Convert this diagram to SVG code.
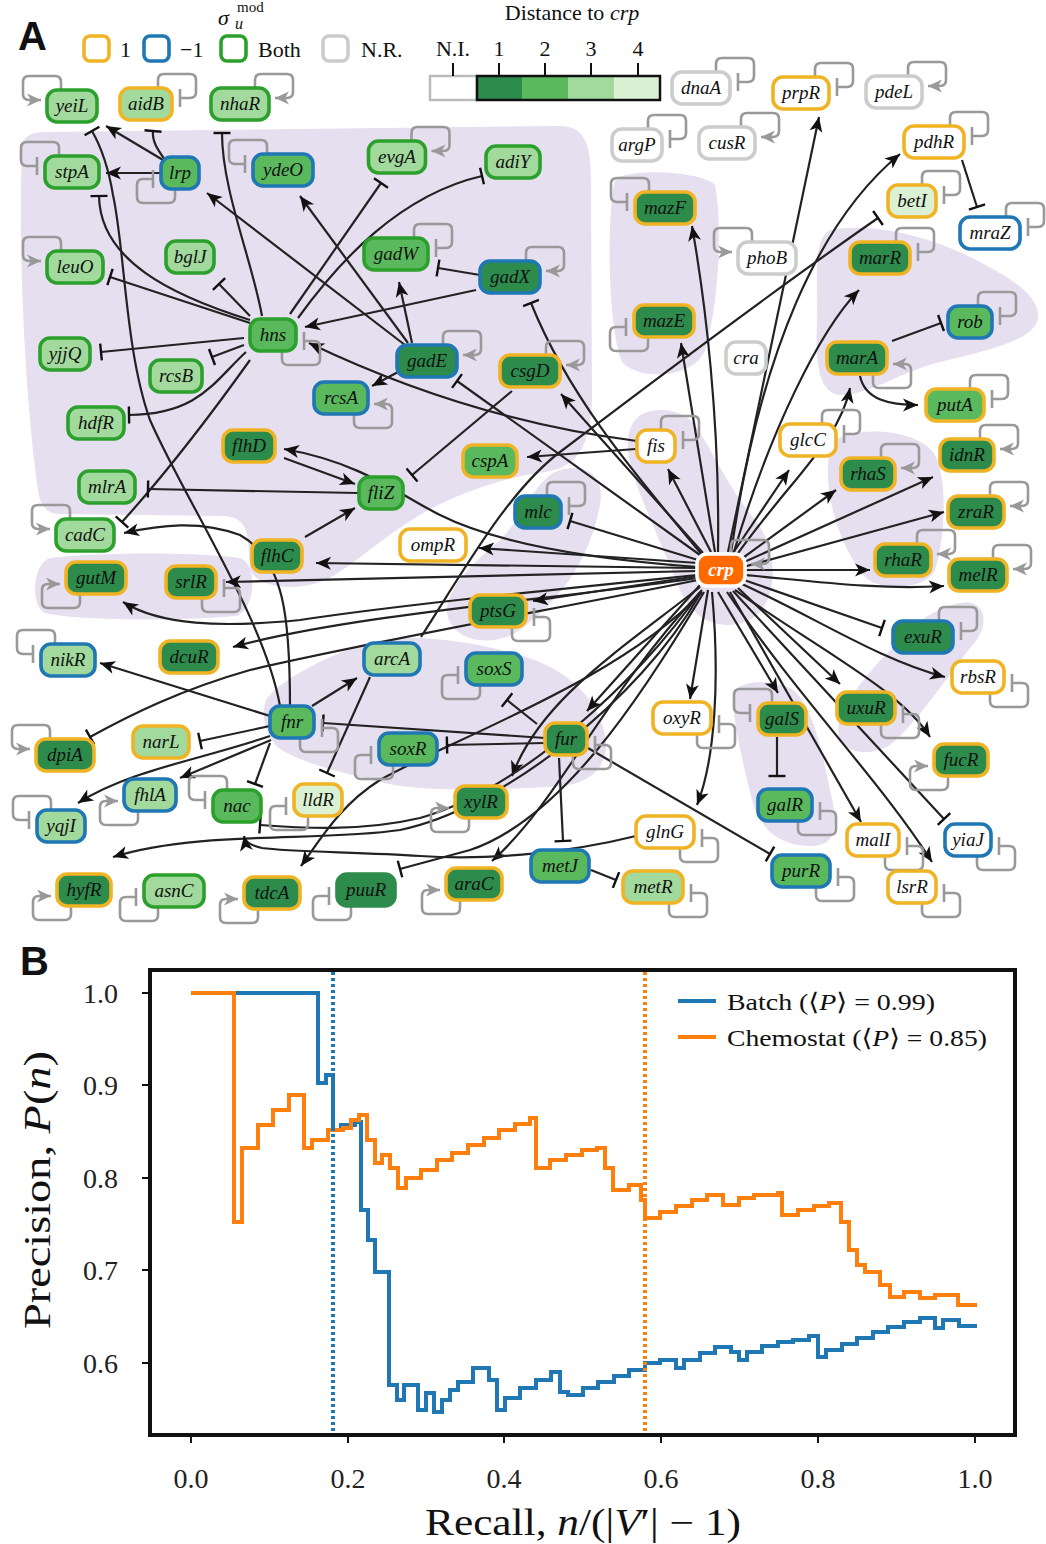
<svg xmlns="http://www.w3.org/2000/svg" xmlns:xlink="http://www.w3.org/1999/xlink" width="1046" height="1544" viewBox="0 0 1046 1544">
<style>
.hull{fill:#e6dff0;stroke:none}
.e{fill:none;stroke:#222;stroke-width:2.2}
.ea{marker-end:url(#ah)}
.et{marker-end:url(#tb)}
.node rect{stroke-width:3.6}
.node text{font-family:"Liberation Serif","DejaVu Serif",serif;font-style:italic;font-size:19px;fill:#111;text-anchor:middle}
.bo{stroke:#f0b323}.bb{stroke:#1f77b4}.bg{stroke:#2ca02c}.bn{stroke:#cccccc}.bd{stroke:#2d8b4c}
.f0{fill:#ffffff}.f1{fill:#2d8b4c}.f2{fill:#5ab95d}.f3{fill:#a2d99c}.f4{fill:#daf1d3}
.lbl{font-family:"Liberation Serif","DejaVu Serif",serif;fill:#111}
.tick{font-family:"Liberation Serif","DejaVu Serif",serif;font-size:28px;fill:#222}
</style>
<defs>
<marker id="ah" viewBox="-16 -8 17 16" markerWidth="17" markerHeight="16" refX="0" refY="0" orient="auto" markerUnits="userSpaceOnUse"><path d="M0,0 L-15,-6.5 L-11,0 L-15,6.5 Z" fill="#111"/></marker>
<marker id="tb" viewBox="-2 -10 4 20" markerWidth="4" markerHeight="20" refX="0" refY="0" orient="auto" markerUnits="userSpaceOnUse"><path d="M0,-8.5 V8.5" stroke="#111" stroke-width="2.4"/></marker>
<marker id="ag" viewBox="-16 -8 17 16" markerWidth="17" markerHeight="16" refX="0" refY="0" orient="auto" markerUnits="userSpaceOnUse"><path d="M0,0 L-14,-6.5 L-10,0 L-14,6.5 Z" fill="#999"/></marker>
<path id="rtb" d="M-14,-16 V-24 Q-14,-30 -8,-30 H18 Q24,-30 24,-24 V-12 Q24,-6 18,-6 H8 M8,-15 V3" fill="none" stroke="#999" stroke-width="2.6"/>
<path id="rta" d="M-14,-16 V-24 Q-14,-30 -8,-30 H18 Q24,-30 24,-24 V-12 Q24,-6 18,-6 H6" fill="none" stroke="#999" stroke-width="2.6" marker-end="url(#ag)"/>
<path id="rbb" d="M-14,16 V24 Q-14,30 -8,30 H18 Q24,30 24,24 V12 Q24,6 18,6 H8 M8,-3 V15" fill="none" stroke="#999" stroke-width="2.6"/>
<path id="rba" d="M-14,16 V24 Q-14,30 -8,30 H18 Q24,30 24,24 V12 Q24,6 18,6 H6" fill="none" stroke="#999" stroke-width="2.6" marker-end="url(#ag)"/>
<path id="ltb" d="M14,-16 V-24 Q14,-30 8,-30 H-18 Q-24,-30 -24,-24 V-12 Q-24,-6 -18,-6 H-8 M-8,-15 V3" fill="none" stroke="#999" stroke-width="2.6"/>
<path id="lta" d="M14,-16 V-24 Q14,-30 8,-30 H-18 Q-24,-30 -24,-24 V-12 Q-24,-6 -18,-6 H-6" fill="none" stroke="#999" stroke-width="2.6" marker-end="url(#ag)"/>
<path id="lbb" d="M14,16 V24 Q14,30 8,30 H-18 Q-24,30 -24,24 V12 Q-24,6 -18,6 H-8 M-8,-3 V15" fill="none" stroke="#999" stroke-width="2.6"/>
<path id="lba" d="M14,16 V24 Q14,30 8,30 H-18 Q-24,30 -24,24 V12 Q-24,6 -18,6 H-6" fill="none" stroke="#999" stroke-width="2.6" marker-end="url(#ag)"/>
</defs>
<rect width="1046" height="1544" fill="#ffffff"/>

<!-- Panel A labels & legends -->
<text x="18" y="50" font-family="Liberation Sans,Arial,sans-serif" font-weight="bold" font-size="40" fill="#111">A</text>
<g id="legend-sigma">
<text class="lbl" x="218" y="25" font-size="22" font-style="italic">σ</text>
<text class="lbl" x="237" y="12" font-size="15">mod</text>
<text class="lbl" x="235" y="29" font-size="16" font-style="italic">u</text>
<rect x="84" y="36" width="25" height="25" rx="6" fill="#fff" stroke="#f0b323" stroke-width="3.6"/>
<text class="lbl" x="120" y="57" font-size="22">1</text>
<rect x="144" y="36" width="25" height="25" rx="6" fill="#fff" stroke="#1f77b4" stroke-width="3.6"/>
<text class="lbl" x="180" y="57" font-size="22">−1</text>
<rect x="221" y="36" width="25" height="25" rx="6" fill="#fff" stroke="#2ca02c" stroke-width="3.6"/>
<text class="lbl" x="258" y="57" font-size="22">Both</text>
<rect x="323" y="36" width="25" height="25" rx="6" fill="#fff" stroke="#cccccc" stroke-width="3.6"/>
<text class="lbl" x="361" y="57" font-size="22">N.R.</text>
</g>
<g id="colorbar">
<text class="lbl" x="572" y="20" font-size="22" text-anchor="middle">Distance to <tspan font-style="italic">crp</tspan></text>
<rect x="430" y="76" width="47" height="24" fill="#fff" stroke="#bbbbbb" stroke-width="2.5"/>
<rect x="477" y="76" width="45" height="24" fill="#2d8b4c"/>
<rect x="522" y="76" width="46" height="24" fill="#5ab95d"/>
<rect x="568" y="76" width="46" height="24" fill="#a2d99c"/>
<rect x="614" y="76" width="46" height="24" fill="#daf1d3"/>
<rect x="477" y="76" width="183" height="24" fill="none" stroke="#111" stroke-width="2.5"/>
<path d="M453,63 V76 M499,63 V76 M545,63 V76 M591,63 V76 M638,63 V76" stroke="#111" stroke-width="2"/>
<text class="lbl" x="453" y="56" font-size="22" text-anchor="middle">N.I.</text>
<text class="lbl" x="499" y="56" font-size="22" text-anchor="middle">1</text>
<text class="lbl" x="545" y="56" font-size="22" text-anchor="middle">2</text>
<text class="lbl" x="591" y="56" font-size="22" text-anchor="middle">3</text>
<text class="lbl" x="638" y="56" font-size="22" text-anchor="middle">4</text>
</g>

<g id="hulls">
<path class="hull" d="M22,150 C20,138 30,132 45,132 L560,126 C585,126 591,145 591,180 L592,400 C590,450 575,468 545,472 C500,478 455,495 425,512 C385,535 360,560 330,578 C300,592 260,590 250,570 L248,540 C246,525 240,516 222,516 L60,514 C46,514 40,505 38,490 C25,400 18,250 22,150 Z"/>
<path class="hull" d="M560,470 C590,462 605,480 600,505 C590,560 560,600 520,630 C490,650 450,640 447,612 C446,590 470,565 500,540 C525,515 535,478 560,470 Z"/>
<path class="hull" d="M615,180 C625,168 700,170 715,185 C722,220 720,300 705,350 C695,378 640,382 622,362 C608,330 606,220 615,180 Z"/>
<path class="hull" d="M632,425 C640,405 680,405 695,425 C712,450 730,490 755,520 C780,550 780,610 745,622 C715,632 690,615 680,590 C665,550 630,480 628,450 C627,440 628,432 632,425 Z"/>
<path class="hull" d="M830,230 C870,222 930,235 980,262 C1010,278 1040,295 1038,318 C1035,340 990,350 940,362 C900,372 870,395 840,395 C818,393 815,360 817,320 C818,280 812,240 830,230 Z"/>
<path class="hull" d="M835,440 C860,425 920,430 935,455 C948,480 945,540 935,570 C925,590 880,592 865,577 C840,547 826,500 828,465 C829,452 830,445 835,440 Z"/>
<path class="hull" d="M960,603 C982,598 992,620 975,642 C950,672 920,720 890,745 C860,762 830,747 840,720 C850,690 880,660 910,630 C930,612 945,606 960,603 Z"/>
<path class="hull" d="M735,690 C745,680 770,680 790,688 C810,700 820,740 830,790 C840,830 835,846 810,846 C780,846 760,830 752,800 C742,760 728,700 735,690 Z"/>
<path class="hull" d="M266,700 C280,680 320,660 360,645 C400,632 460,638 520,655 C570,670 600,700 606,740 C608,772 585,786 550,787 C480,790 420,792 380,782 C340,772 310,765 285,752 C266,742 260,715 266,700 Z"/>
<path class="hull" d="M50,558 C100,552 200,552 240,558 C258,564 256,610 236,616 C180,621 80,621 45,613 C30,606 32,564 50,558 Z"/>
</g>

<g id="connectors">
<path class="e ea" d="M163,160 L106,126"/>
<path class="e et" d="M165,160 C158,150 152,142 153,131"/>
<path class="e ea" d="M161,173 L106,173"/>
<path class="e ea" d="M405,345 L207,193"/>
<path class="e ea" d="M408,343 L300,196"/>
<path class="e ea" d="M412,343 L399,282"/>
<path class="e ea" d="M398,372 L372,386"/>
<path class="e et" d="M480,275 L438,268"/>
<path class="e ea" d="M476,290 L305,327"/>
<path class="e et" d="M262,316 C252,260 222,190 222,133"/>
<path class="e et" d="M250,320 C170,295 100,260 99,196"/>
<path class="e et" d="M280,706 C265,620 185,500 150,420 C125,350 125,250 113,195 C108,165 100,145 92,131"/>
<path class="e ea" d="M290,707 C290,620 285,560 240,535 C200,520 160,525 124,533"/>
<path class="e et" d="M250,360 C200,430 160,480 122,522"/>
<path class="e et" d="M250,323 L110,277"/>
<path class="e et" d="M250,316 L219,284"/>
<path class="e et" d="M244,338 L101,352"/>
<path class="e et" d="M244,345 L212,357"/>
<path class="e et" d="M246,352 C215,380 200,414 129,415"/>
<path class="e et" d="M290,314 L381,183"/>
<path class="e et" d="M298,318 C340,260 400,195 482,176"/>
<path class="e ea" d="M637,441 Q470,420 309,343"/>
<path class="e et" d="M700,555 L457,381"/>
<path class="e et" d="M703,556 C640,480 570,400 531,303"/>
<path class="e ea" d="M703,553 L561,394"/>
<path class="e ea" d="M636,449 L527,457"/>
<path class="e et" d="M512,391 L412,475"/>
<path class="e ea" d="M698,567 C600,560 500,545 440,515 C400,495 360,462 284,449"/>
<path class="e ea" d="M284,458 L355,484"/>
<path class="e ea" d="M305,537 L355,508"/>
<path class="e et" d="M358,493 L148,489"/>
<path class="e ea" d="M697,568 L316,563"/>
<path class="e ea" d="M697,571 L226,582"/>
<path class="e ea" d="M697,575 C550,590 400,605 300,620 C220,628 160,625 123,602"/>
<path class="e ea" d="M697,578 C550,600 350,615 233,647"/>
<path class="e et" d="M698,580 C550,610 380,640 250,670 C180,690 130,715 90,737"/>
<path class="e ea" d="M698,563 L479,548"/>
<path class="e et" d="M698,560 L570,521"/>
<path class="e ea" d="M698,576 L533,601"/>
<path class="e ea" d="M711,552 L668,469"/>
<path class="e ea" d="M715,552 L681,343"/>
<path class="e ea" d="M718,552 C720,420 705,300 692,226"/>
<path class="e ea" d="M728,552 L819,117"/>
<path class="e ea" d="M731,553 C760,350 820,220 900,154"/>
<path class="e ea" d="M733,555 C770,430 820,330 859,290"/>
<path class="e ea" d="M736,556 C790,480 840,440 850,388"/>
<path class="e ea" d="M733,553 L789,470"/>
<path class="e ea" d="M740,560 L836,490"/>
<path class="e ea" d="M742,563 L933,477"/>
<path class="e ea" d="M743,567 L944,512"/>
<path class="e ea" d="M745,570 L870,570"/>
<path class="e ea" d="M745,575 C820,582 880,590 944,586"/>
<path class="e et" d="M744,580 L882,628"/>
<path class="e ea" d="M742,584 C820,620 880,660 945,677"/>
<path class="e ea" d="M738,588 L840,684"/>
<path class="e ea" d="M735,590 C820,650 900,690 930,737"/>
<path class="e ea" d="M730,592 L861,822"/>
<path class="e ea" d="M727,592 C800,700 880,780 932,862"/>
<path class="e et" d="M733,591 L944,819"/>
<path class="e ea" d="M718,592 L778,693"/>
<path class="e et" d="M777,737 L777,776"/>
<path class="e ea" d="M712,592 C720,680 715,760 697,805"/>
<path class="e ea" d="M708,590 L690,699"/>
<path class="e ea" d="M700,585 L587,711"/>
<path class="e ea" d="M700,587 C620,650 540,700 512,776"/>
<path class="e ea" d="M702,590 C600,700 560,800 492,861"/>
<path class="e ea" d="M702,592 C620,680 450,740 380,780 C340,805 320,840 301,866"/>
<path class="e et" d="M704,592 C640,700 560,820 470,850 L400,869"/>
<path class="e et" d="M700,592 C640,680 520,790 420,818 C360,832 300,828 260,825"/>
<path class="e ea" d="M700,594 C640,700 500,810 400,830 C320,842 200,830 113,857"/>
<path class="e ea" d="M636,836 C560,855 480,860 420,856 C360,852 290,852 262,848 C250,845 245,842 244,836"/>
<path class="e et" d="M545,738 L323,723"/>
<path class="e et" d="M546,743 L447,745"/>
<path class="e et" d="M537,724 L507,700"/>
<path class="e et" d="M559,758 L563,841"/>
<path class="e et" d="M588,748 L770,854"/>
<path class="e et" d="M591,870 L616,880"/>
<path class="e ea" d="M270,716 L100,663"/>
<path class="e et" d="M270,726 L200,741"/>
<path class="e ea" d="M270,736 C200,760 130,770 78,803"/>
<path class="e ea" d="M271,740 L180,778"/>
<path class="e et" d="M270,743 L255,784"/>
<path class="e ea" d="M312,706 L357,678"/>
<path class="e et" d="M370,677 L327,773"/>
<path class="e et" d="M421,637 C470,560 510,490 560,452 S760,300 878,218"/>
<path class="e et" d="M892,341 L941,323"/>
<path class="e ea" d="M860,376 C865,400 890,405 918,405"/>
<path class="e et" d="M962,160 L977,207"/>
<g id="self-loops">
<use href="#lta" x="47" y="106"/>
<use href="#rtb" x="172" y="104"/>
<use href="#rta" x="269" y="104"/>
<use href="#ltb" x="45" y="172"/>
<use href="#lbb" x="161" y="173"/>
<use href="#ltb" x="253" y="170"/>
<use href="#rta" x="425.5" y="157"/>
<use href="#lta" x="47" y="267"/>
<use href="#rtb" x="428" y="254"/>
<use href="#rta" x="540" y="277"/>
<use href="#rbb" x="296" y="335"/>
<use href="#rta" x="457" y="361"/>
<use href="#rta" x="560" y="371"/>
<use href="#rba" x="368" y="398"/>
<use href="#rtb" x="561" y="512"/>
<use href="#lta" x="56" y="535"/>
<use href="#lba" x="66" y="578"/>
<use href="#rbb" x="216" y="582"/>
<use href="#rbb" x="526" y="611"/>
<use href="#ltb" x="41" y="660"/>
<use href="#lbb" x="466" y="669"/>
<use href="#rbb" x="314" y="722"/>
<use href="#lta" x="36" y="755"/>
<use href="#lbb" x="379" y="749"/>
<use href="#rbb" x="587" y="739"/>
<use href="#lba" x="124" y="795"/>
<use href="#ltb" x="213" y="806"/>
<use href="#lbb" x="294" y="800"/>
<use href="#lba" x="455" y="802"/>
<use href="#ltb" x="37" y="826"/>
<use href="#lba" x="57" y="890"/>
<use href="#lbb" x="144" y="891"/>
<use href="#lba" x="244" y="893"/>
<use href="#lbb" x="337" y="890"/>
<use href="#lba" x="446" y="884"/>
<use href="#rbb" x="683" y="887"/>
<use href="#rbb" x="694" y="832"/>
<use href="#rbb" x="711" y="718"/>
<use href="#ltb" x="758" y="719"/>
<use href="#rbb" x="812" y="805"/>
<use href="#rbb" x="830" y="871"/>
<use href="#rbb" x="899" y="840"/>
<use href="#rbb" x="936" y="887"/>
<use href="#rbb" x="991" y="840"/>
<use href="#lba" x="934" y="760"/>
<use href="#rbb" x="895" y="708"/>
<use href="#rbb" x="1004" y="677"/>
<use href="#rtb" x="953" y="637"/>
<use href="#rta" x="1007" y="575"/>
<use href="#rta" x="931" y="560"/>
<use href="#rta" x="1004" y="512"/>
<use href="#rta" x="895" y="474"/>
<use href="#rta" x="994" y="455"/>
<use href="#rtb" x="836" y="440"/>
<use href="#rtb" x="984" y="405"/>
<use href="#rba" x="887" y="358"/>
<use href="#rtb" x="992" y="322"/>
<use href="#rtb" x="910" y="258"/>
<use href="#rtb" x="1020" y="233"/>
<use href="#rtb" x="936" y="201"/>
<use href="#rtb" x="964" y="142"/>
<use href="#rta" x="922" y="92"/>
<use href="#rtb" x="829" y="93"/>
<use href="#rtb" x="730" y="88"/>
<use href="#rta" x="755" y="143"/>
<use href="#rtb" x="662" y="145"/>
<use href="#ltb" x="635" y="208"/>
<use href="#lta" x="738" y="258"/>
<use href="#lbb" x="634" y="321"/>
<use href="#rtb" x="675" y="446"/>
<use href="#rta" x="745" y="570"/>
</g>
</g>

<g id="nodes">
<g id="n-yeiL" class="node"><rect class="bg f3" x="47" y="90" width="50" height="32" rx="10"/><text x="72" y="112">yeiL</text></g>
<g id="n-aidB" class="node"><rect class="bo f3" x="120" y="88" width="52" height="32" rx="10"/><text x="146" y="110">aidB</text></g>
<g id="n-nhaR" class="node"><rect class="bg f3" x="211" y="88" width="58" height="32" rx="10"/><text x="240" y="110">nhaR</text></g>
<g id="n-stpA" class="node"><rect class="bg f3" x="45" y="156" width="54" height="32" rx="10"/><text x="72" y="178">stpA</text></g>
<g id="n-lrp" class="node"><rect class="bb f2" x="161" y="157" width="38" height="32" rx="10"/><text x="180" y="179">lrp</text></g>
<g id="n-ydeO" class="node"><rect class="bb f2" x="253" y="154" width="60" height="32" rx="10"/><text x="283" y="176">ydeO</text></g>
<g id="n-evgA" class="node"><rect class="bg f3" x="368.5" y="141" width="57" height="32" rx="10"/><text x="397" y="163">evgA</text></g>
<g id="n-adiY" class="node"><rect class="bg f3" x="486" y="146" width="54" height="32" rx="10"/><text x="513" y="168">adiY</text></g>
<g id="n-leuO" class="node"><rect class="bg f3" x="47" y="251" width="56" height="32" rx="10"/><text x="75" y="273">leuO</text></g>
<g id="n-bglJ" class="node"><rect class="bg f3" x="166" y="241" width="48" height="32" rx="10"/><text x="190" y="263">bglJ</text></g>
<g id="n-gadW" class="node"><rect class="bg f2" x="364" y="238" width="64" height="32" rx="10"/><text x="396" y="260">gadW</text></g>
<g id="n-gadX" class="node"><rect class="bb f1" x="480" y="261" width="60" height="32" rx="10"/><text x="510" y="283">gadX</text></g>
<g id="n-hns" class="node"><rect class="bg f2" x="250" y="319" width="46" height="32" rx="10"/><text x="273" y="341">hns</text></g>
<g id="n-yjjQ" class="node"><rect class="bg f3" x="40" y="338" width="50" height="32" rx="10"/><text x="65" y="360">yjjQ</text></g>
<g id="n-rcsB" class="node"><rect class="bg f3" x="150" y="360" width="52" height="32" rx="10"/><text x="176" y="382">rcsB</text></g>
<g id="n-gadE" class="node"><rect class="bb f1" x="397" y="345" width="60" height="32" rx="10"/><text x="427" y="367">gadE</text></g>
<g id="n-csgD" class="node"><rect class="bo f1" x="500" y="355" width="60" height="32" rx="10"/><text x="530" y="377">csgD</text></g>
<g id="n-rcsA" class="node"><rect class="bb f2" x="314" y="382" width="54" height="32" rx="10"/><text x="341" y="404">rcsA</text></g>
<g id="n-hdfR" class="node"><rect class="bg f3" x="68" y="407" width="56" height="32" rx="10"/><text x="96" y="429">hdfR</text></g>
<g id="n-flhD" class="node"><rect class="bo f1" x="223" y="430" width="52" height="32" rx="10"/><text x="249" y="452">flhD</text></g>
<g id="n-cspA" class="node"><rect class="bo f2" x="463" y="445" width="54" height="32" rx="10"/><text x="490" y="467">cspA</text></g>
<g id="n-fliZ" class="node"><rect class="bg f2" x="359" y="477" width="44" height="32" rx="10"/><text x="381" y="499">fliZ</text></g>
<g id="n-mlrA" class="node"><rect class="bg f3" x="79" y="471" width="56" height="32" rx="10"/><text x="107" y="493">mlrA</text></g>
<g id="n-mlc" class="node"><rect class="bb f1" x="515" y="496" width="46" height="32" rx="10"/><text x="538" y="518">mlc</text></g>
<g id="n-cadC" class="node"><rect class="bg f3" x="56" y="519" width="58" height="32" rx="10"/><text x="85" y="541">cadC</text></g>
<g id="n-flhC" class="node"><rect class="bo f1" x="252" y="540" width="50" height="32" rx="10"/><text x="277" y="562">flhC</text></g>
<g id="n-ompR" class="node"><rect class="bo f0" x="400" y="529" width="66" height="32" rx="10"/><text x="433" y="551">ompR</text></g>
<g id="n-gutM" class="node"><rect class="bo f1" x="66" y="562" width="60" height="32" rx="10"/><text x="96" y="584">gutM</text></g>
<g id="n-srlR" class="node"><rect class="bo f1" x="166" y="566" width="50" height="32" rx="10"/><text x="191" y="588">srlR</text></g>
<g id="n-ptsG" class="node"><rect class="bo f1" x="470" y="595" width="56" height="32" rx="10"/><text x="498" y="617">ptsG</text></g>
<g id="n-nikR" class="node"><rect class="bb f3" x="41" y="644" width="54" height="32" rx="10"/><text x="68" y="666">nikR</text></g>
<g id="n-dcuR" class="node"><rect class="bo f1" x="160" y="641" width="58" height="32" rx="10"/><text x="189" y="663">dcuR</text></g>
<g id="n-arcA" class="node"><rect class="bb f3" x="364" y="643" width="56" height="32" rx="10"/><text x="392" y="665">arcA</text></g>
<g id="n-soxS" class="node"><rect class="bb f2" x="466" y="653" width="56" height="32" rx="10"/><text x="494" y="675">soxS</text></g>
<g id="n-fnr" class="node"><rect class="bb f2" x="270" y="706" width="44" height="32" rx="10"/><text x="292" y="728">fnr</text></g>
<g id="n-dpiA" class="node"><rect class="bo f1" x="36" y="739" width="58" height="32" rx="10"/><text x="65" y="761">dpiA</text></g>
<g id="n-narL" class="node"><rect class="bo f3" x="133" y="726" width="56" height="32" rx="10"/><text x="161" y="748">narL</text></g>
<g id="n-soxR" class="node"><rect class="bb f2" x="379" y="733" width="58" height="32" rx="10"/><text x="408" y="755">soxR</text></g>
<g id="n-fur" class="node"><rect class="bo f1" x="545" y="723" width="42" height="32" rx="10"/><text x="566" y="745">fur</text></g>
<g id="n-fhlA" class="node"><rect class="bb f3" x="124" y="779" width="52" height="32" rx="10"/><text x="150" y="801">fhlA</text></g>
<g id="n-nac" class="node"><rect class="bg f2" x="213" y="790" width="48" height="32" rx="10"/><text x="237" y="812">nac</text></g>
<g id="n-lldR" class="node"><rect class="bo f4" x="294" y="784" width="48" height="32" rx="10"/><text x="318" y="806">lldR</text></g>
<g id="n-xylR" class="node"><rect class="bo f1" x="455" y="786" width="52" height="32" rx="10"/><text x="481" y="808">xylR</text></g>
<g id="n-yqjI" class="node"><rect class="bb f3" x="37" y="810" width="48" height="32" rx="10"/><text x="61" y="832">yqjI</text></g>
<g id="n-hyfR" class="node"><rect class="bo f1" x="57" y="874" width="54" height="32" rx="10"/><text x="84" y="896">hyfR</text></g>
<g id="n-asnC" class="node"><rect class="bg f3" x="144" y="875" width="60" height="32" rx="10"/><text x="174" y="897">asnC</text></g>
<g id="n-tdcA" class="node"><rect class="bo f1" x="244" y="877" width="56" height="32" rx="10"/><text x="272" y="899">tdcA</text></g>
<g id="n-puuR" class="node"><rect class="bd f1" x="337" y="874" width="58" height="32" rx="10"/><text x="366" y="896">puuR</text></g>
<g id="n-araC" class="node"><rect class="bo f1" x="446" y="868" width="56" height="32" rx="10"/><text x="474" y="890">araC</text></g>
<g id="n-metJ" class="node"><rect class="bb f2" x="531" y="850" width="58" height="32" rx="10"/><text x="560" y="872">metJ</text></g>
<g id="n-metR" class="node"><rect class="bo f3" x="623" y="871" width="60" height="32" rx="10"/><text x="653" y="893">metR</text></g>
<g id="n-glnG" class="node"><rect class="bo f0" x="636" y="816" width="58" height="32" rx="10"/><text x="665" y="838">glnG</text></g>
<g id="n-oxyR" class="node"><rect class="bo f0" x="653" y="702" width="58" height="32" rx="10"/><text x="682" y="724">oxyR</text></g>
<g id="n-galS" class="node"><rect class="bo f1" x="758" y="703" width="48" height="32" rx="10"/><text x="782" y="725">galS</text></g>
<g id="n-galR" class="node"><rect class="bb f2" x="758" y="789" width="54" height="32" rx="10"/><text x="785" y="811">galR</text></g>
<g id="n-purR" class="node"><rect class="bb f2" x="772" y="855" width="58" height="32" rx="10"/><text x="801" y="877">purR</text></g>
<g id="n-malI" class="node"><rect class="bo f0" x="847" y="824" width="52" height="32" rx="10"/><text x="873" y="846">malI</text></g>
<g id="n-lsrR" class="node"><rect class="bo f0" x="888" y="871" width="48" height="32" rx="10"/><text x="912" y="893">lsrR</text></g>
<g id="n-yiaJ" class="node"><rect class="bb f0" x="945" y="824" width="46" height="32" rx="10"/><text x="968" y="846">yiaJ</text></g>
<g id="n-fucR" class="node"><rect class="bo f1" x="934" y="744" width="54" height="32" rx="10"/><text x="961" y="766">fucR</text></g>
<g id="n-uxuR" class="node"><rect class="bo f1" x="837" y="692" width="58" height="32" rx="10"/><text x="866" y="714">uxuR</text></g>
<g id="n-rbsR" class="node"><rect class="bo f0" x="952" y="661" width="52" height="32" rx="10"/><text x="978" y="683">rbsR</text></g>
<g id="n-exuR" class="node"><rect class="bb f1" x="893" y="621" width="60" height="32" rx="10"/><text x="923" y="643">exuR</text></g>
<g id="n-melR" class="node"><rect class="bo f1" x="949" y="559" width="58" height="32" rx="10"/><text x="978" y="581">melR</text></g>
<g id="n-rhaR" class="node"><rect class="bo f1" x="875" y="544" width="56" height="32" rx="10"/><text x="903" y="566">rhaR</text></g>
<g id="n-zraR" class="node"><rect class="bo f1" x="948" y="496" width="56" height="32" rx="10"/><text x="976" y="518">zraR</text></g>
<g id="n-rhaS" class="node"><rect class="bo f1" x="841" y="458" width="54" height="32" rx="10"/><text x="868" y="480">rhaS</text></g>
<g id="n-idnR" class="node"><rect class="bo f1" x="940" y="439" width="54" height="32" rx="10"/><text x="967" y="461">idnR</text></g>
<g id="n-glcC" class="node"><rect class="bo f0" x="780" y="424" width="56" height="32" rx="10"/><text x="808" y="446">glcC</text></g>
<g id="n-putA" class="node"><rect class="bo f2" x="926" y="389" width="58" height="32" rx="10"/><text x="955" y="411">putA</text></g>
<g id="n-marA" class="node"><rect class="bo f1" x="827" y="342" width="60" height="32" rx="10"/><text x="857" y="364">marA</text></g>
<g id="n-rob" class="node"><rect class="bb f2" x="948" y="306" width="44" height="32" rx="10"/><text x="970" y="328">rob</text></g>
<g id="n-marR" class="node"><rect class="bo f1" x="850" y="242" width="60" height="32" rx="10"/><text x="880" y="264">marR</text></g>
<g id="n-mraZ" class="node"><rect class="bb f0" x="960" y="217" width="60" height="32" rx="10"/><text x="990" y="239">mraZ</text></g>
<g id="n-betI" class="node"><rect class="bo f4" x="888" y="185" width="48" height="32" rx="10"/><text x="912" y="207">betI</text></g>
<g id="n-pdhR" class="node"><rect class="bo f0" x="904" y="126" width="60" height="32" rx="10"/><text x="934" y="148">pdhR</text></g>
<g id="n-pdeL" class="node"><rect class="bn f0" x="866" y="76" width="56" height="32" rx="10"/><text x="894" y="98">pdeL</text></g>
<g id="n-prpR" class="node"><rect class="bo f0" x="773" y="77" width="56" height="32" rx="10"/><text x="801" y="99">prpR</text></g>
<g id="n-dnaA" class="node"><rect class="bn f0" x="672" y="72" width="58" height="32" rx="10"/><text x="701" y="94">dnaA</text></g>
<g id="n-cusR" class="node"><rect class="bn f0" x="699" y="127" width="56" height="32" rx="10"/><text x="727" y="149">cusR</text></g>
<g id="n-argP" class="node"><rect class="bn f0" x="612" y="129" width="50" height="32" rx="10"/><text x="637" y="151">argP</text></g>
<g id="n-mazF" class="node"><rect class="bo f1" x="635" y="192" width="60" height="32" rx="10"/><text x="665" y="214">mazF</text></g>
<g id="n-phoB" class="node"><rect class="bn f0" x="738" y="242" width="58" height="32" rx="10"/><text x="767" y="264">phoB</text></g>
<g id="n-mazE" class="node"><rect class="bo f1" x="634" y="305" width="60" height="32" rx="10"/><text x="664" y="327">mazE</text></g>
<g id="n-cra" class="node"><rect class="bn f0" x="726" y="342" width="40" height="32" rx="10"/><text x="746" y="364">cra</text></g>
<g id="n-fis" class="node"><rect class="bo f0" x="637" y="430" width="38" height="32" rx="10"/><text x="656" y="452">fis</text></g>
<g id="n-crp" class="node"><rect x="697" y="554" width="48" height="32" rx="10" fill="#ff6a00" stroke="#ffffff" stroke-width="3"/><text x="721" y="576" style="fill:#ffffff;font-weight:bold">crp</text></g>
</g>

<!-- Panel B -->
<g id="panelB">
<text x="20" y="975" font-family="Liberation Sans,Arial,sans-serif" font-weight="bold" font-size="40" fill="#111">B</text>
<path d="M191,993 H318 V1083 H326 V1075 H333 V1130 H341 V1125 H355 V1122 H361 V1210 H368 V1240 H375 V1272 H389 V1385 H397 V1400 H404 V1385 H418 V1410 H426 V1393 H434 V1412 H442 V1400 H450 V1390 H458 V1382 H473 V1368 H489 V1380 H497 V1410 H505 V1398 H520 V1388 H536 V1380 H551 V1372 H560 V1392 H568 V1395 H583 V1388 H598 V1382 H614 V1376 H629 V1370 H645 V1363 H660 V1360 H676 V1368 H684 V1360 H700 V1353 H715 V1347 H731 V1352 H739 V1360 H747 V1352 H762 V1346 H778 V1342 H793 V1340 H809 V1336 H818 V1357 H826 V1350 H842 V1344 H857 V1338 H873 V1332 H888 V1327 H904 V1322 H920 V1318 H935 V1328 H943 V1320 H959 V1326 H977" fill="none" stroke="#1f77b4" stroke-width="4"/>
<path d="M191,993 H234 V1222 H242 V1148 H258 V1125 H273 V1110 H289 V1095 H304 V1148 H312 V1140 H328 V1130 H343 V1128 H351 V1120 H359 V1115 H367 V1140 H375 V1163 H382 V1155 H390 V1168 H398 V1188 H406 V1178 H421 V1170 H437 V1160 H452 V1153 H468 V1145 H484 V1138 H499 V1130 H515 V1124 H530 V1118 H536 V1168 H550 V1160 H566 V1155 H582 V1150 H597 V1148 H605 V1168 H613 V1190 H629 V1185 H641 V1200 H645 V1218 H660 V1212 H676 V1206 H692 V1200 H707 V1195 H723 V1205 H739 V1198 H754 V1195 H778 V1193 H782 V1215 H798 V1210 H814 V1206 H829 V1203 H841 V1222 H849 V1250 H857 V1265 H865 V1272 H880 V1285 H890 V1297 H904 V1292 H920 V1298 H935 V1295 H958 V1305 H977" fill="none" stroke="#ff7f0e" stroke-width="4"/>
<path d="M333,972 V1433" stroke="#1f77b4" stroke-width="4" stroke-dasharray="3,3"/>
<path d="M645,972 V1433" stroke="#ff7f0e" stroke-width="4" stroke-dasharray="3,3"/>
<rect x="150" y="970" width="865" height="465" fill="none" stroke="#111" stroke-width="4"/>
<path d="M142,993 H150 M142,1085 H150 M142,1178 H150 M142,1270 H150 M142,1363 H150 M191,1435 V1443 M348,1435 V1443 M504,1435 V1443 M661,1435 V1443 M818,1435 V1443 M975,1435 V1443" stroke="#111" stroke-width="2"/>
<text class="tick" x="118" y="1003" text-anchor="end">1.0</text>
<text class="tick" x="118" y="1095" text-anchor="end">0.9</text>
<text class="tick" x="118" y="1188" text-anchor="end">0.8</text>
<text class="tick" x="118" y="1280" text-anchor="end">0.7</text>
<text class="tick" x="118" y="1373" text-anchor="end">0.6</text>
<text class="tick" x="191" y="1488" text-anchor="middle">0.0</text>
<text class="tick" x="348" y="1488" text-anchor="middle">0.2</text>
<text class="tick" x="504" y="1488" text-anchor="middle">0.4</text>
<text class="tick" x="661" y="1488" text-anchor="middle">0.6</text>
<text class="tick" x="818" y="1488" text-anchor="middle">0.8</text>
<text class="tick" x="975" y="1488" text-anchor="middle">1.0</text>
<text class="lbl" x="50" y="1190" font-size="37" text-anchor="middle" textLength="278" lengthAdjust="spacingAndGlyphs" transform="rotate(-90 50 1190)">Precision, <tspan font-style="italic">P</tspan>(<tspan font-style="italic">n</tspan>)</text>
<text class="lbl" x="583" y="1535" font-size="37" text-anchor="middle" textLength="316" lengthAdjust="spacingAndGlyphs">Recall, <tspan font-style="italic">n</tspan>/(|<tspan font-style="italic">V</tspan>′| − 1)</text>
<path d="M678,1001 H716" stroke="#1f77b4" stroke-width="4"/>
<text class="lbl" x="727" y="1010" font-size="24" textLength="208" lengthAdjust="spacingAndGlyphs">Batch (⟨<tspan font-style="italic">P</tspan>⟩ = 0.99)</text>
<path d="M678,1037 H716" stroke="#ff7f0e" stroke-width="4"/>
<text class="lbl" x="727" y="1046" font-size="24" textLength="260" lengthAdjust="spacingAndGlyphs">Chemostat (⟨<tspan font-style="italic">P</tspan>⟩ = 0.85)</text>
</g>
</svg>
